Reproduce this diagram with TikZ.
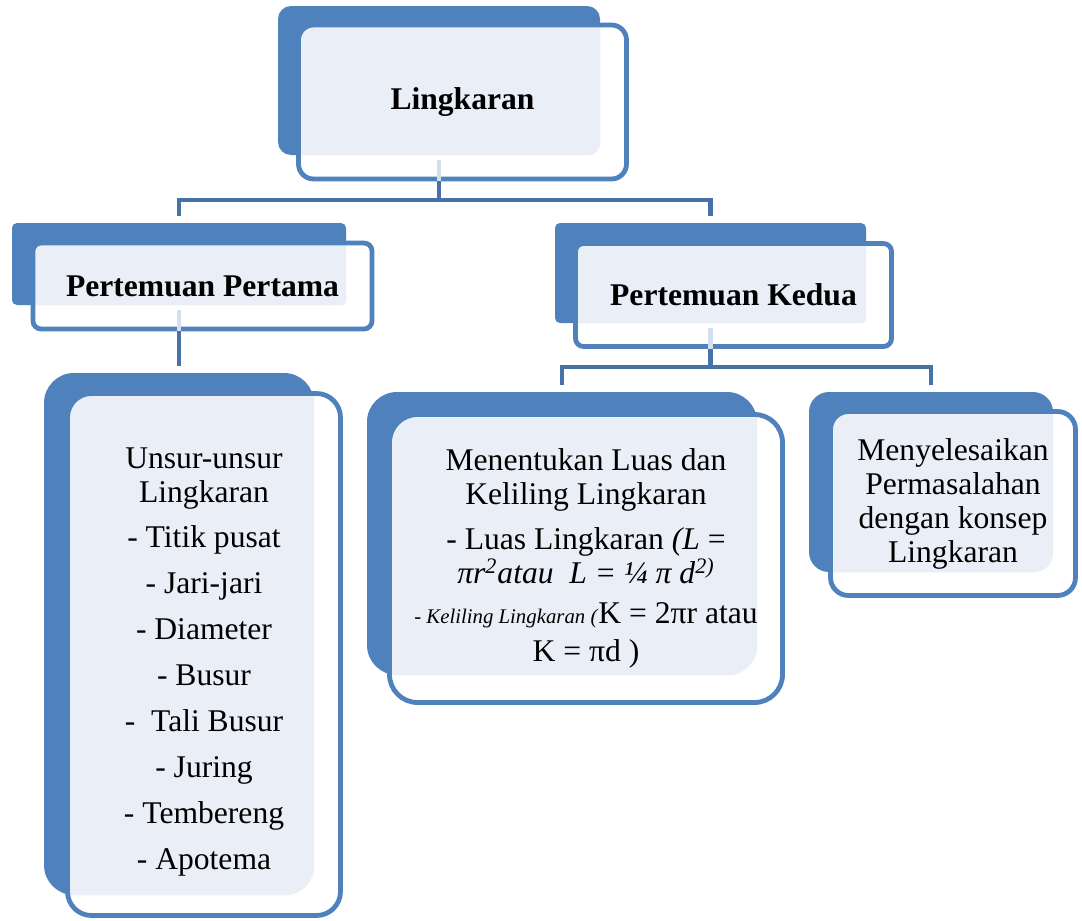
\documentclass[tikz,border=0pt]{standalone}
\usepackage{fontspec}
\setmainfont{Liberation Serif}
\usetikzlibrary{calc}
\definecolor{smartblue}{HTML}{4F81BD}
\definecolor{linkblue}{HTML}{4672A8}
\definecolor{paleblue}{HTML}{EAEFF7}
\tikzset{
backbox/.style 2 args={rectangle, fill=smartblue, inner sep=0pt, minimum width=#1*0.5pt, minimum height=#2*0.5pt},
frontbox/.style 2 args={rectangle, draw=smartblue, line width=2.4pt, fill=white, inner sep=0pt, minimum width=#1*0.5pt, minimum height=#2*0.5pt, align=center},
pale/.style 2 args={path picture={\fill[paleblue, rounded corners=#2] (#1.south west) rectangle (#1.north east);}},
conn/.style={draw=linkblue, line width=2.4pt, shorten >=3.5pt},
stubline/.style={draw=paleblue!85!smartblue, line width=2.4pt, shorten <=2.5pt},
heading/.style={font=\fontsize{15.8}{17}\selectfont\bfseries},
body/.style={font=\fontsize{15.8}{17}\selectfont},
}

\begin{document}
\begin{tikzpicture}[x=0.5pt, y=-0.5pt]
    \useasboundingbox (0,0) rectangle (1082,921);

    % back plates
    \node[backbox={322}{149}, rounded corners=6.5pt] (b1) at (439,80.5) {};
    \node[backbox={334}{82}, rounded corners=2.5pt] (b2) at (179,264) {};
    \node[backbox={311}{100}, rounded corners=2.5pt] (b3) at (710.5,273) {};
    \node[backbox={270}{522}, rounded corners=15pt] (b4) at (179,634) {};
    \node[backbox={390}{283}, rounded corners=15pt] (b5) at (562,533.5) {};
    \node[backbox={244}{180}, rounded corners=10pt] (b6) at (931,482) {};

    % text boxes
    \node[frontbox={328}{154}, rounded corners=7.5pt, pale={b1}{6.5pt}, heading] (f1) at (462.5,102) {Lingkaran};
    \node[frontbox={339}{86}, rounded corners=4pt, pale={b2}{2.5pt}, heading] (f2) at (202.5,286) {Pertemuan Pertama};
    \node[frontbox={316}{103}, rounded corners=4pt, pale={b3}{2.5pt}, heading] (f3) at (733.5,295) {Pertemuan Kedua};
    \node[frontbox={273}{522}, rounded corners=12pt, pale={b4}{15pt}, body] (f4) at (204,654.5)
        {\rule{0pt}{17.8pt}Unsur-unsur\\ Lingkaran\\[5.5pt] - Titik pusat\\[6pt] - Jari-jari\\[6pt] - Diameter\\[6pt]
         - Busur\\[6pt] -\ \ Tali Busur\\[6pt] - Juring\\[6pt] - Tembereng\\[6pt] - Apotema};
    \node[frontbox={393}{288}, rounded corners=14pt, pale={b5}{15pt}, body] (f5) at (586,558.5)
        {Menentukan Luas dan\\ Keliling Lingkaran\\[5.5pt]
         - Luas Lingkaran \textit{(L} =\\
         \textit{πr\textsuperscript{2}atau\ \ L = ¼ π d\textsuperscript{2)}}\\[3pt]
         {\fontsize{10.4}{12}\selectfont\textit{- Keliling Lingkaran (}}K = 2πr atau\\[2pt]
         K = πd )};
    \node[frontbox={245}{184}, rounded corners=9pt, pale={b6}{10pt}, body] (f6) at (953,503.5)
        {Menyelesaikan\\ Permasalahan\\ dengan konsep\\ Lingkaran};

    % connectors
    \coordinate (j1) at (439,200);
    \coordinate (j2) at (710.5,367);
    \draw[stubline] (b1.south) -- (b1.south |- f1.south);
    \draw[stubline] (b2.south) -- (b2.south |- f2.south);
    \draw[stubline] (b3.south) -- (b3.south |- f3.south);
    \draw[conn] (b1.south |- f1.south) -- (j1) -| (b2.north);
    \draw[conn] (j1) -| (b3.north);
    \draw[conn] (b2.south |- f2.south) -- (b4.north);
    \draw[conn] (b3.south |- f3.south) -- (j2) -| (b5.north);
    \draw[conn] (j2) -| (b6.north);
\end{tikzpicture}
\end{document}
